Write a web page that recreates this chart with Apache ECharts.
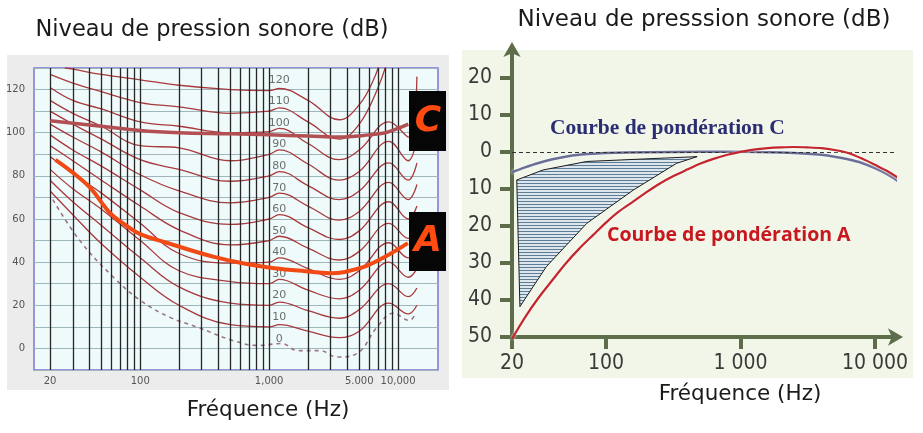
<!DOCTYPE html>
<html>
<head>
<meta charset="utf-8">
<script src="https://cdn.jsdelivr.net/npm/echarts@6/dist/echarts.min.js"></script>
<style>
html, body { margin: 0; padding: 0; background: #fff; }
#chart { width: 923px; height: 433px; }
</style>
</head>
<body>
<div id="chart"></div>
<script>
// ---- panneau gauche : courbes isosoniques (phones) ----
var contourFreq = [20, 30, 50, 100, 200, 500, 1000, 1200, 2000, 3500, 5000, 8500, 12000, 14000];
var phon10  = [73, 62, 48.5, 33, 20, 11, 10, 11, 8, 5, 8, 21, 16, 20];
var phon20  = [78, 68, 57, 42, 28.5, 21, 20, 21.5, 17.5, 14, 18, 30, 24, 28];
var phon30  = [83, 74, 64.5, 50, 36, 31, 30, 32, 27, 23, 27, 40, 33, 37];
var phon40  = [89, 81, 72, 58, 44, 39.5, 40, 42, 37, 32, 36, 49, 42, 46];
var phon50  = [94, 87, 78, 66, 55, 48, 50, 52, 46.5, 41, 45, 58, 51, 56];
var phon60  = [99, 92, 84.5, 73.5, 63, 57.5, 60, 62, 56, 50.5, 54.5, 68, 60, 66];
var phon70  = [104, 98, 91, 80.5, 73, 67.5, 70, 72, 66, 59.5, 63.5, 77, 69, 76];
var phon80  = [110, 104, 97, 87.5, 83, 77.5, 80, 82, 75.5, 69, 73, 86, 78, 86];
var phon90  = [115, 109, 103, 94, 93, 87, 90, 92, 85.5, 78, 82, 96, 87, 98];
var phon100 = [121, 115, 111, 105, 103, 100, 100.5, 102, 95, 87.5, 92, 105, 98, 126];
var phon110Freq = [20, 30, 50, 100, 200, 500, 1000, 1200, 2000, 3500, 5000, 7000, 8500];
var phon110 = [127, 123, 119, 114, 112, 109, 110, 111.5, 105, 97, 104, 121, 136];
var phon120Freq = [26, 30, 50, 100, 200, 500, 1000, 1200, 2000, 3500, 5000, 6500, 7500];
var phon120 = [130, 129.5, 127, 124.5, 122, 120, 119.5, 120.5, 115, 106, 113, 125, 136];

// seuil d'audition (pointillés)
var seuilFreq = [21, 34, 62, 100, 170, 280, 520, 820, 1250, 1660, 2480, 3360, 4790, 6860, 9150, 12300, 13300];
var seuilDb = [69, 50, 33, 22.3, 14.4, 9.8, 3.7, 1.4, 2.3, -1, -1, -4, -2.4, 9.8, 16.3, 13, 15];

// courbes A et C (épaisses)
var courbeAFreq = [22, 30, 41, 58, 80, 100, 160, 380, 690, 1100, 1900, 2950, 5050, 7600, 11900];
var courbeADb = [87.4, 81.5, 74.4, 63, 56.5, 53, 49, 42.3, 39, 37.2, 35.8, 34.9, 37.2, 41.9, 48.8];
var courbeCFreq = [20, 50, 100, 200, 500, 1000, 2000, 3500, 6000, 8000, 10000, 12000];
var courbeCDb = [105.5, 103, 101, 100, 99.5, 99, 98.5, 98, 99, 100, 102, 104];

var phonLabels = [0, 10, 20, 30, 40, 50, 60, 70, 80, 90, 100, 110, 120];
var gridFreq = [20, 30, 40, 50, 60, 70, 80, 90, 100, 200, 300, 400, 500, 600, 700, 800, 900,
  1000, 2000, 3000, 4000, 5000, 6000, 7000, 8000, 9000, 10000];
var leftTickVals = [20, 100, 1000, 5000, 10000];
var leftTickText = ['20', '100', '1,000', '5.000', '10,000'];

// ---- panneau droit : pondérations ----
var pondAFreq = [20, 25, 31.5, 40, 50, 63, 80, 100, 125, 160, 200, 250, 315, 400, 500, 630, 800,
  1000, 1250, 1600, 2000, 2500, 3150, 4000, 5000, 6300, 8000, 10000, 12500, 16000, 17700];
var pondADb = [-50.5, -44.7, -39.4, -34.6, -30.2, -26.2, -22.5, -19.1, -16.1, -13.4, -10.9, -8.6, -6.6,
  -4.8, -3.2, -1.9, -0.8, 0, 0.6, 1.0, 1.2, 1.3, 1.2, 1.0, 0.5, -0.3, -1.8, -3.5, -5.3, -7.8, -9];
var pondCFreq = [20, 25, 31.5, 40, 50, 63, 80, 100, 200, 500, 1000, 2000, 3150, 4000, 5000, 6300,
  8000, 10000, 12500, 16000, 18200];
var pondCDb = [-5.5, -4.2, -3.0, -2.0, -1.3, -0.8, -0.5, -0.3, -0.1, 0, 0, -0.2, -0.5, -0.8, -1.3, -2.0,
  -3.0, -4.4, -6.2, -8.8, -10.8];
var hachureFreq = [21.7, 34, 72, 476, 335, 160, 72, 36, 22.9];
var hachureDb = [-7.6, -4.9, -2.6, -1.3, -3.1, -10.3, -19.3, -31, -41.8];
var rightYTicks = [-50, -40, -30, -20, -10, 0, 10, 20];
var rightXTicks = [20, 100, 1000, 10000];
var rightXText = ['20', '100', '1 000', '10 000'];

function pairs(xs, ys) {
  return xs.map(function (x, i) { return [x, ys[i]]; });
}

// motif de hachures horizontales
var hatch = document.createElement('canvas');
hatch.width = 4; hatch.height = 3;
var hctx = hatch.getContext('2d');
hctx.fillStyle = '#dde6ec';
hctx.fillRect(0, 0, 4, 3);
hctx.fillStyle = '#5d7d96';
hctx.fillRect(0, 0, 4, 1);

var contours = [
  [contourFreq, phon10], [contourFreq, phon20], [contourFreq, phon30], [contourFreq, phon40],
  [contourFreq, phon50], [contourFreq, phon60], [contourFreq, phon70], [contourFreq, phon80],
  [contourFreq, phon90], [contourFreq, phon100], [phon110Freq, phon110], [phon120Freq, phon120]
];

var series = [];
series.push({
  type: 'line', xAxisIndex: 0, yAxisIndex: 0, data: [], silent: true, z: 1,
  markLine: {
    silent: true, symbol: ['none', 'none'], label: { show: false }, animation: false,
    lineStyle: { color: '#262626', type: 'solid', width: 1.3 },
    data: gridFreq.map(function (f) { return { xAxis: f }; })
  }
});
contours.forEach(function (c) {
  series.push({
    type: 'line', xAxisIndex: 0, yAxisIndex: 0, smooth: 0.4, symbol: 'none', z: 3,
    lineStyle: { color: '#a9393d', width: 1.3 },
    data: pairs(c[0], c[1])
  });
});
series.push({
  type: 'line', xAxisIndex: 0, yAxisIndex: 0, smooth: 0.4, symbol: 'none', z: 3,
  lineStyle: { color: '#9b7585', width: 1.6, type: [4, 4] },
  data: pairs(seuilFreq, seuilDb)
});
series.push({
  type: 'scatter', xAxisIndex: 0, yAxisIndex: 0, symbolSize: 1, z: 4,
  itemStyle: { color: 'transparent' },
  label: {
    show: true, position: 'inside', color: '#4a4a4a', fontSize: 11, fontFamily: 'DejaVu Sans',
    formatter: function (p) { return p.value[2]; }
  },
  data: phonLabels.map(function (p) { return [1200, p + 4.5, String(p)]; })
});
series.push({
  type: 'line', xAxisIndex: 0, yAxisIndex: 0, smooth: 0.4, symbol: 'none', z: 5,
  lineStyle: { color: '#b24f52', width: 3.5 },
  data: pairs(courbeCFreq, courbeCDb)
});
series.push({
  type: 'line', xAxisIndex: 0, yAxisIndex: 0, smooth: 0.4, symbol: 'none', z: 6,
  lineStyle: { color: '#f24a14', width: 4 },
  data: pairs(courbeAFreq, courbeADb)
});

series.push({
  type: 'custom', xAxisIndex: 1, yAxisIndex: 1, data: [0], silent: true, z: 2,
  renderItem: function (params, api) {
    var pts = hachureFreq.map(function (f, i) { return api.coord([f, hachureDb[i]]); });
    return {
      type: 'polygon', shape: { points: pts },
      style: { fill: { image: hatch, repeat: 'repeat' }, stroke: '#1b1b1b', lineWidth: 1 }
    };
  }
});
series.push({
  type: 'line', xAxisIndex: 1, yAxisIndex: 1, smooth: 0.3, symbol: 'none', clip: false, z: 4,
  lineStyle: { color: '#6b6f96', width: 2.5, shadowColor: 'rgba(255,255,255,0.9)', shadowBlur: 3 },
  data: pairs(pondCFreq, pondCDb),
  markLine: {
    silent: true, symbol: ['none', 'none'], label: { show: false }, animation: false,
    lineStyle: { color: '#333', type: [4, 3], width: 1.2 },
    data: [{ yAxis: 0 }]
  }
});
series.push({
  type: 'line', xAxisIndex: 1, yAxisIndex: 1, smooth: 0.3, symbol: 'none', clip: false, z: 5,
  lineStyle: { color: '#c3262c', width: 2.2, shadowColor: 'rgba(255,255,255,0.9)', shadowBlur: 3 },
  data: pairs(pondAFreq, pondADb)
});

var axisGreen = '#5d6d49';
var narrow = '"Liberation Sans Narrow", "DejaVu Sans Condensed", "Roboto", sans-serif';
var titleFont = '"DejaVu Sans"';

var chart = echarts.init(document.getElementById('chart'));
chart.setOption({
  animation: false,
  grid: [
    { left: 34, top: 68, width: 404, height: 302, show: true, backgroundColor: '#effbfb',
      borderColor: '#7b76d4', borderWidth: 1.5 },
    { left: 512, top: 50, width: 383, height: 287 }
  ],
  xAxis: [
    { gridIndex: 0, type: 'log', min: 15, max: 20400,
      axisLine: { show: false }, axisTick: { show: false }, splitLine: { show: false },
      axisLabel: {
        customValues: leftTickVals, color: '#555', fontSize: 10, margin: 6, fontFamily: 'DejaVu Sans',
        formatter: function (v) { var i = leftTickVals.indexOf(Math.round(v)); return i < 0 ? '' : leftTickText[i]; }
      } },
    { gridIndex: 1, type: 'log', min: 20, max: 14100,
      axisLine: { show: true, onZero: false, lineStyle: { color: axisGreen, width: 4 },
        symbol: ['none', 'arrow'], symbolSize: [13, 15], symbolOffset: [0, 8] },
      axisTick: { show: true, customValues: rightXTicks, length: 12, lineStyle: { color: axisGreen, width: 4 } },
      splitLine: { show: false },
      axisLabel: {
        customValues: rightXTicks, color: '#3a3a3a', fontSize: 21, margin: 16, fontFamily: narrow,
        formatter: function (v) { var i = rightXTicks.indexOf(Math.round(v)); return i < 0 ? '' : rightXText[i]; }
      } }
  ],
  yAxis: [
    { gridIndex: 0, type: 'value', min: -10, max: 130, interval: 10,
      axisLine: { show: false }, axisTick: { show: false },
      splitLine: { show: true, lineStyle: { color: '#9fb6bb', width: 1 } },
      axisLabel: {
        color: '#555', fontSize: 10, margin: 9, fontFamily: 'DejaVu Sans',
        formatter: function (v) { return (v % 20 === 0 && v >= 0 && v <= 120) ? String(v) : ''; }
      } },
    { gridIndex: 1, type: 'value', min: -50, max: 27.5, interval: 10,
      axisLine: { show: true, onZero: false, lineStyle: { color: axisGreen, width: 4 },
        symbol: ['none', 'arrow'], symbolSize: [13, 15], symbolOffset: [0, 8] },
      axisTick: { show: true, customValues: rightYTicks, length: 12, lineStyle: { color: axisGreen, width: 4 } },
      splitLine: { show: false },
      axisLabel: {
        customValues: rightYTicks, color: '#3a3a3a', fontSize: 21, margin: 20, fontFamily: narrow,
        formatter: function (v) { return String(Math.abs(v)); }
      } }
  ],
  graphic: [
    { type: 'rect', z: -10, silent: true, shape: { x: 7, y: 55, width: 442, height: 335 }, style: { fill: '#ececec' } },
    { type: 'rect', z: -10, silent: true, shape: { x: 462, y: 50, width: 451, height: 328 }, style: { fill: '#f1f6e9' } },
    { type: 'text', z: 100, style: { text: 'Niveau de pression sonore (dB)', x: 212, y: 30, textAlign: 'center', textVerticalAlign: 'middle',
      font: '22.5px ' + titleFont, fill: '#1a1a1a' } },
    { type: 'text', z: 100, style: { text: 'Niveau de presssion sonore (dB)', x: 704, y: 20, textAlign: 'center', textVerticalAlign: 'middle',
      font: '23px ' + titleFont, fill: '#1a1a1a' } },
    { type: 'text', z: 100, style: { text: 'Fréquence (Hz)', x: 268, y: 410, textAlign: 'center', textVerticalAlign: 'middle',
      font: '21.5px ' + titleFont, fill: '#1a1a1a' } },
    { type: 'text', z: 100, style: { text: 'Fréquence (Hz)', x: 740, y: 394, textAlign: 'center', textVerticalAlign: 'middle',
      font: '21.5px ' + titleFont, fill: '#1a1a1a' } },
    { type: 'rect', z: 100, shape: { x: 409, y: 91, width: 37, height: 60 }, style: { fill: '#060606' } },
    { type: 'text', z: 101, style: { text: 'C', x: 428, y: 122, textAlign: 'center', textVerticalAlign: 'middle',
      font: 'italic bold 36px "DejaVu Sans"', fill: '#ff4b12' } },
    { type: 'rect', z: 100, shape: { x: 409, y: 212, width: 37, height: 59 }, style: { fill: '#060606' } },
    { type: 'text', z: 101, style: { text: 'A', x: 428, y: 242, textAlign: 'center', textVerticalAlign: 'middle',
      font: 'italic bold 36px "DejaVu Sans"', fill: '#ff4b12' } },
    { type: 'text', z: 100, style: { text: 'Courbe de pondération C', x: 550, y: 128, textAlign: 'left', textVerticalAlign: 'middle',
      font: 'bold 21.5px "Liberation Serif"', fill: '#2b2d72' } },
    { type: 'text', z: 100, style: { text: 'Courbe de pondération A', x: 607, y: 235, textAlign: 'left', textVerticalAlign: 'middle',
      font: 'bold 19.5px "Open Sans"', fill: '#c8171e' } }
  ],
  series: series
});
</script>
</body>
</html>
